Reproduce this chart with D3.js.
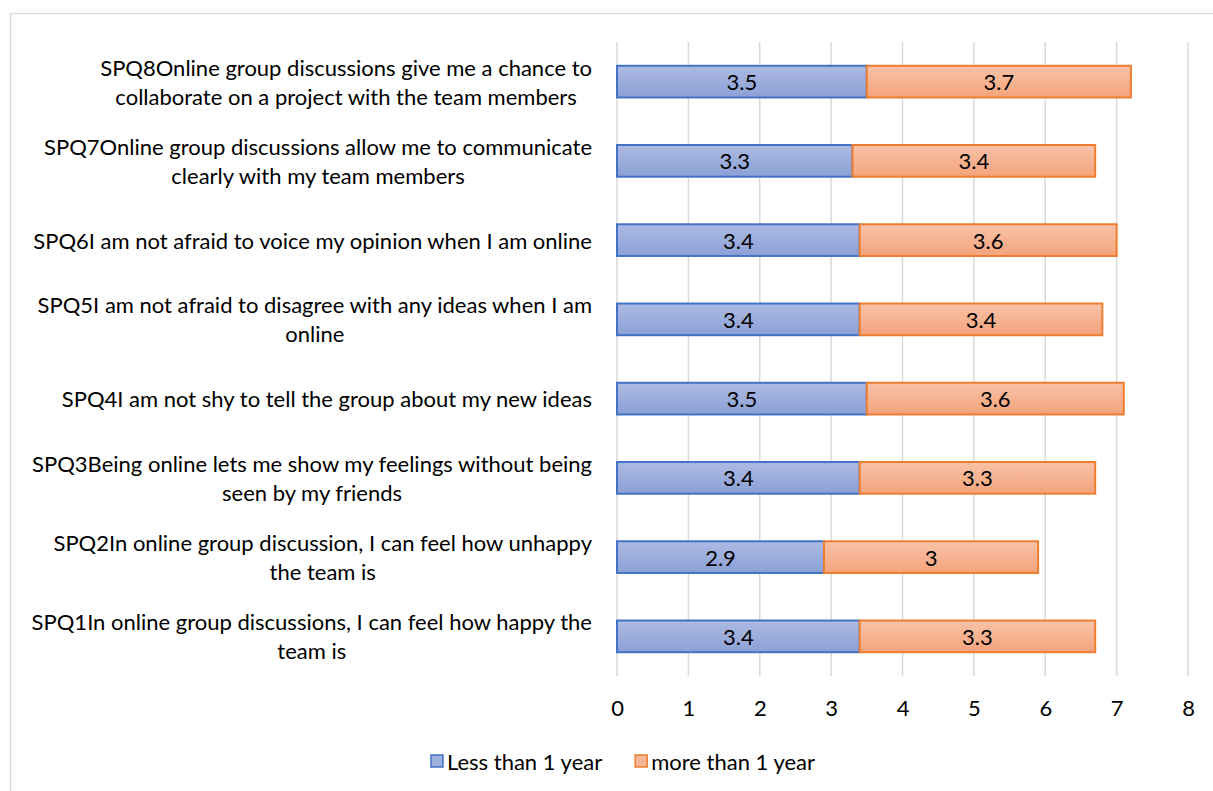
<!DOCTYPE html>
<html>
<head>
<meta charset="utf-8">
<script src="https://cdn.jsdelivr.net/npm/d3@7"></script>
<style>
  html, body { margin: 0; padding: 0; background: #fff; }
  svg { display: block; }
  text { font-family: Lato, "Liberation Sans", sans-serif; fill: #000; }
</style>
</head>
<body>
<svg id="chart" width="1213" height="791"></svg>
<script>
// Survey items (top to bottom), each label split into its display lines
const categories = ["SPQ8", "SPQ7", "SPQ6", "SPQ5", "SPQ4", "SPQ3", "SPQ2", "SPQ1"];
const categoryLines = [
  ["SPQ8Online group discussions give me a chance to", "collaborate on a project with the team members"],
  ["SPQ7Online group discussions allow me to communicate", "clearly with my team members"],
  ["SPQ6I am not afraid to voice my opinion when I am online"],
  ["SPQ5I am not afraid to disagree with any ideas when I am", "online"],
  ["SPQ4I am not shy to tell the group about my new ideas"],
  ["SPQ3Being online lets me show my feelings without being", "seen by my friends"],
  ["SPQ2In online group discussion, I can feel how unhappy", "the team is"],
  ["SPQ1In online group discussions, I can feel how happy the", "team is"]
];
const seriesNames = ["Less than 1 year", "more than 1 year"];
const lessThanOneYear = [3.5, 3.3, 3.4, 3.4, 3.5, 3.4, 2.9, 3.4];
const moreThanOneYear = [3.7, 3.4, 3.6, 3.4, 3.6, 3.3, 3, 3.3];
const xTicks = [0, 1, 2, 3, 4, 5, 6, 7, 8];

const svg = d3.select("#chart");
const W = 1213, H = 791;
const fontSize = 22;

// Chart frame
svg.append("rect")
  .attr("x", 10.5).attr("y", 13.5)
  .attr("width", W + 20).attr("height", H + 20)
  .attr("fill", "#fff").attr("stroke", "#d9d9d9").attr("stroke-width", 1.3);

const plot = { left: 617, right: 1188, top: 42, bottom: 676 };

const x = d3.scaleLinear().domain([0, 8]).range([plot.left, plot.right]);
const y = d3.scaleBand().domain(categories).range([plot.top, plot.bottom])
  .paddingInner(0.6).paddingOuter(0.3);

// Gradients
const defs = svg.append("defs");
const gradSpecs = [
  { id: "gBlue", top: "#adbbe3", bottom: "#8ba0d6" },
  { id: "gOrange", top: "#f8c3a8", bottom: "#f4a37b" }
];
gradSpecs.forEach(g => {
  const lg = defs.append("linearGradient").attr("id", g.id)
    .attr("x1", 0).attr("y1", 0).attr("x2", 0).attr("y2", 1);
  lg.append("stop").attr("offset", "0%").attr("stop-color", g.top);
  lg.append("stop").attr("offset", "100%").attr("stop-color", g.bottom);
});
const fills = ["url(#gBlue)", "url(#gOrange)"];
const strokes = ["#4472c4", "#ed7d31"];
const swatchFills = ["#9fb0de", "#f6b597"];

// Vertical gridlines
svg.append("g").selectAll("line").data(xTicks).join("line")
  .attr("x1", d => x(d)).attr("x2", d => x(d))
  .attr("y1", plot.top).attr("y2", plot.bottom)
  .attr("stroke", "#d9d9d9").attr("stroke-width", 1.5);

// X axis labels
const xAxis = d3.axisBottom(x).tickValues(xTicks).tickSize(0).tickPadding(0);
const gx = svg.append("g").attr("transform", `translate(0,${plot.bottom + 31})`).call(xAxis);
gx.select(".domain").remove();
gx.selectAll("text").attr("font-size", fontSize).attr("font-family", "Lato, sans-serif")
  .attr("dy", "0").attr("dominant-baseline", "central").attr("fill", "#000");

// Stacked series
const rows = categories.map((c, i) => ({ cat: c, v: [lessThanOneYear[i], moreThanOneYear[i]] }));
const segs = [];
rows.forEach(r => {
  let start = 0;
  r.v.forEach((val, s) => {
    segs.push({ cat: r.cat, s, x0: start, x1: start + val, val });
    start += val;
  });
});

const gBars = svg.append("g");
gBars.selectAll("rect").data(segs).join("rect")
  .attr("x", d => x(d.x0)).attr("width", d => x(d.x1) - x(d.x0))
  .attr("y", d => y(d.cat)).attr("height", y.bandwidth())
  .attr("fill", d => fills[d.s]).attr("stroke", d => strokes[d.s]).attr("stroke-width", 2);

gBars.selectAll("text").data(segs).join("text")
  .attr("x", d => (x(d.x0) + x(d.x1)) / 2)
  .attr("y", d => y(d.cat) + y.bandwidth() / 2)
  .attr("text-anchor", "middle").attr("dominant-baseline", "central")
  .attr("font-size", fontSize)
  .text(d => d.val);

// Category labels: each block right-aligned, its lines centred within it
const labelRight = 592;
const lineGap = 29;
const gLab = svg.append("g");
categories.forEach((c, i) => {
  const lines = categoryLines[i];
  const g = gLab.append("g");
  const texts = lines.map(l => g.append("text").attr("font-size", fontSize)
    .attr("dominant-baseline", "central").attr("text-anchor", "middle").text(l));
  const widths = texts.map(t => t.node().getComputedTextLength());
  const blockW = d3.max(widths);
  const cx = labelRight - blockW / 2;
  const cy = y(c) + y.bandwidth() / 2;
  texts.forEach((t, k) => {
    t.attr("x", cx).attr("y", cy + (k - (lines.length - 1) / 2) * lineGap);
  });
});

// Legend
const legend = svg.append("g");
const legendY = 761;
const items = legend.selectAll("g").data(seriesNames).join("g");
items.append("rect").attr("width", 12).attr("height", 12)
  .attr("fill", (d, i) => swatchFills[i]).attr("stroke", (d, i) => strokes[i]).attr("stroke-width", 1.5);
items.append("text").attr("x", 16).attr("y", 6).attr("dominant-baseline", "central")
  .attr("font-size", fontSize).text(d => d);
let lx = 0;
const gap = 33;
const positions = [];
items.each(function () {
  positions.push(lx);
  lx += this.getBBox().width + gap;
});
const totalW = lx - gap;
const startX = 623 - totalW / 2;
items.attr("transform", (d, i) => `translate(${startX + positions[i]},${legendY - 6})`);
</script>
</body>
</html>
